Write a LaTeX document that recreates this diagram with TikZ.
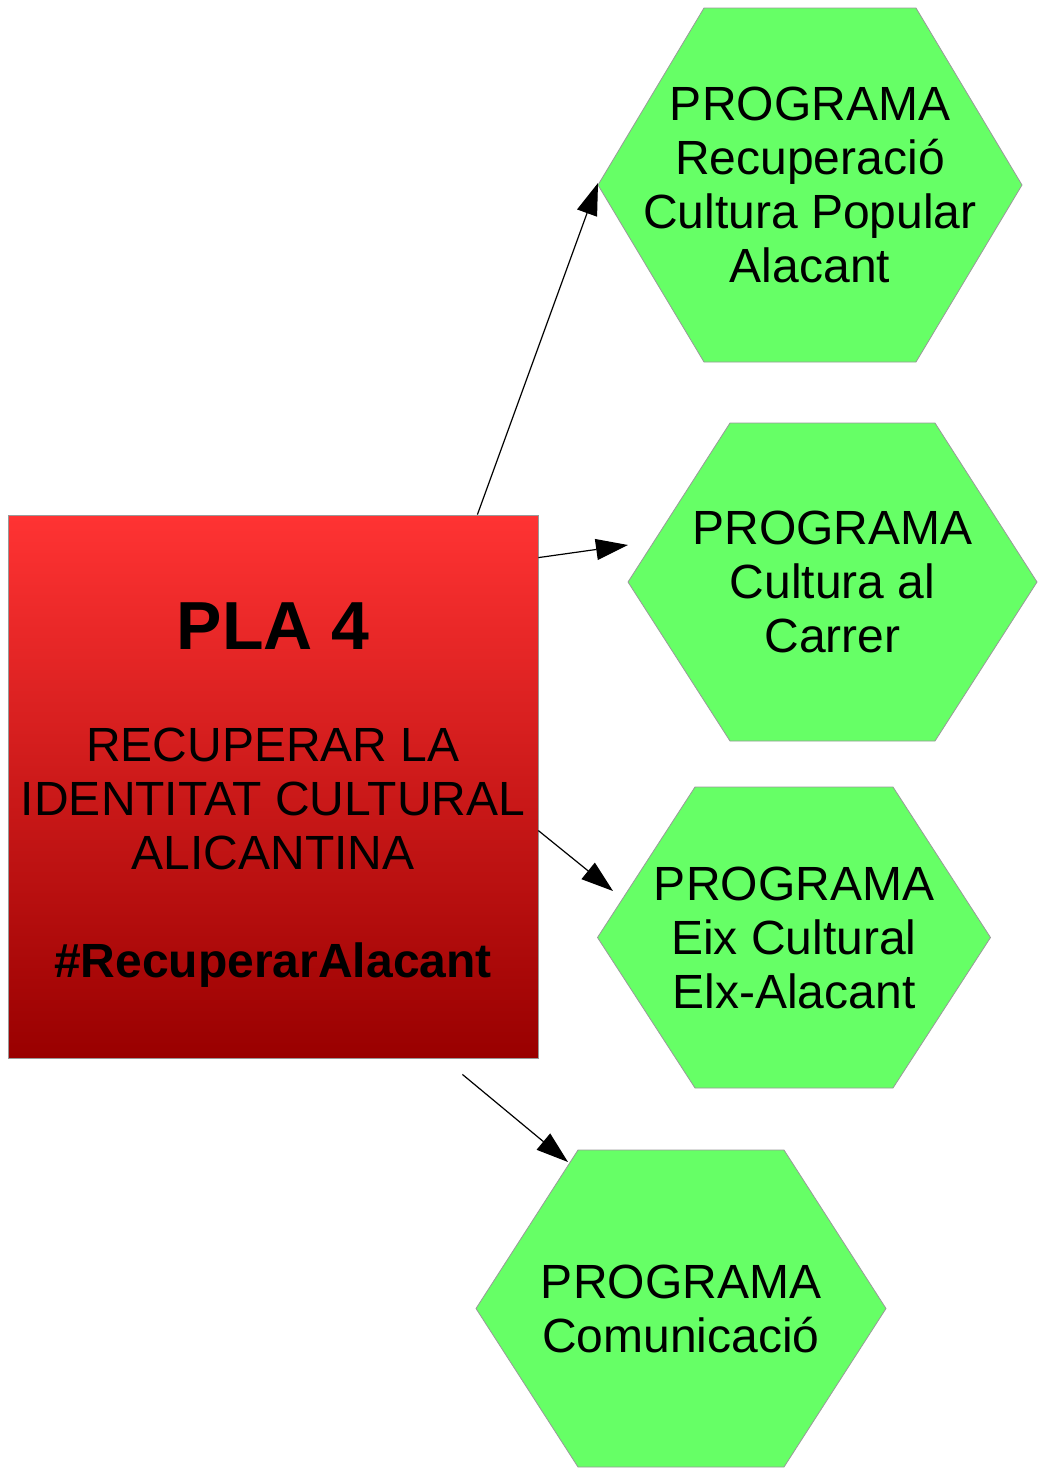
\documentclass[tikz,border=0pt]{standalone}
\usepackage{fontspec}
\setmainfont{Liberation Sans}
\usetikzlibrary{arrows.meta,positioning,backgrounds}
\definecolor{plared}{HTML}{FF3333}
\definecolor{pladark}{HTML}{990000}
\definecolor{proggreen}{HTML}{66FF66}
\definecolor{edgegray}{HTML}{999999}
\tikzset{
  plabox/.style={rectangle, draw=edgegray, line width=0.8pt, align=center,
                 top color=plared, bottom color=pladark,
                 font=\fontsize{48}{54}\selectfont,
                 minimum width=530pt, minimum height=543pt, inner sep=0pt},
  progbox/.style={rectangle, align=center, inner sep=0pt,
                  font=\fontsize{48}{54}\selectfont},
  hexfill/.style={fill=proggreen, draw=edgegray, line width=0.8pt},
  arrow/.style={-{Triangle[length=32pt, width=21pt]}, line width=1.2pt}
}
% hexagon behind a program node: name, half top width, half height, side offset
\newcommand{\proghex}[4]{%
  \path[hexfill] ([xshift=-#2pt, yshift=#3pt]#1.center)
    -- ([xshift=#2pt, yshift=#3pt]#1.center)
    -- ([xshift={#2pt+#4pt}]#1.center)
    -- ([xshift=#2pt, yshift=-#3pt]#1.center)
    -- ([xshift=-#2pt, yshift=-#3pt]#1.center)
    -- ([xshift={-#2pt-#4pt}]#1.center) -- cycle;}

\begin{document}
\begin{tikzpicture}[x=1pt, y=-1pt]
  \useasboundingbox (0,0) rectangle (1038,1470);
  \node[plabox] (pla) at (273,786.5)
    {\rule{0pt}{63pt}{\fontsize{68}{78}\selectfont\bfseries PLA 4}\\[58pt]
     RECUPERAR LA\\IDENTITAT CULTURAL\\ALICANTINA\\[54pt]
     \textbf{\#RecuperarAlacant}};
  \node[progbox] (recup) at (810,185)
    {PROGRAMA\\Recuperació\\Cultura Popular\\Alacant};
  \node[progbox] (carrer) at (832.5,582)
    {PROGRAMA\\Cultura al\\Carrer};
  \node[progbox] (eix) at (794,937.5)
    {PROGRAMA\\Eix Cultural\\Elx-Alacant};
  \node[progbox] (comun) at (681,1308.5)
    {PROGRAMA\\Comunicació};
  \begin{scope}[on background layer]
    \proghex{recup}{106}{177}{106}
    \proghex{carrer}{102.5}{159}{102}
    \proghex{eix}{99}{150.5}{97.5}
    \proghex{comun}{103}{158.5}{102}
  \end{scope}
  % arrow ends
  \coordinate (o1) at ([xshift=-61pt]pla.north east);
  \coordinate (o2) at ([yshift=-43pt]pla.north east);
  \coordinate (o3) at ([yshift=-316pt]pla.north east);
  \coordinate (o4) at ([xshift=-76pt, yshift=-16pt]pla.south east);
  \coordinate (e1) at ([xshift=-212pt, yshift=2pt]recup.center);
  \coordinate (e2) at ([xshift=-204.5pt, yshift=37pt]carrer.center);
  \coordinate (e3) at ([xshift=-181pt, yshift=46.5pt]eix.center);
  \coordinate (e4) at ([xshift=-113pt, yshift=146.5pt]comun.center);
  \draw[arrow] (o1) -- (e1);
  \draw[arrow] (o2) -- (e2);
  \draw[arrow] (o3) -- (e3);
  \draw[arrow] (o4) -- (e4);
\end{tikzpicture}
\end{document}
